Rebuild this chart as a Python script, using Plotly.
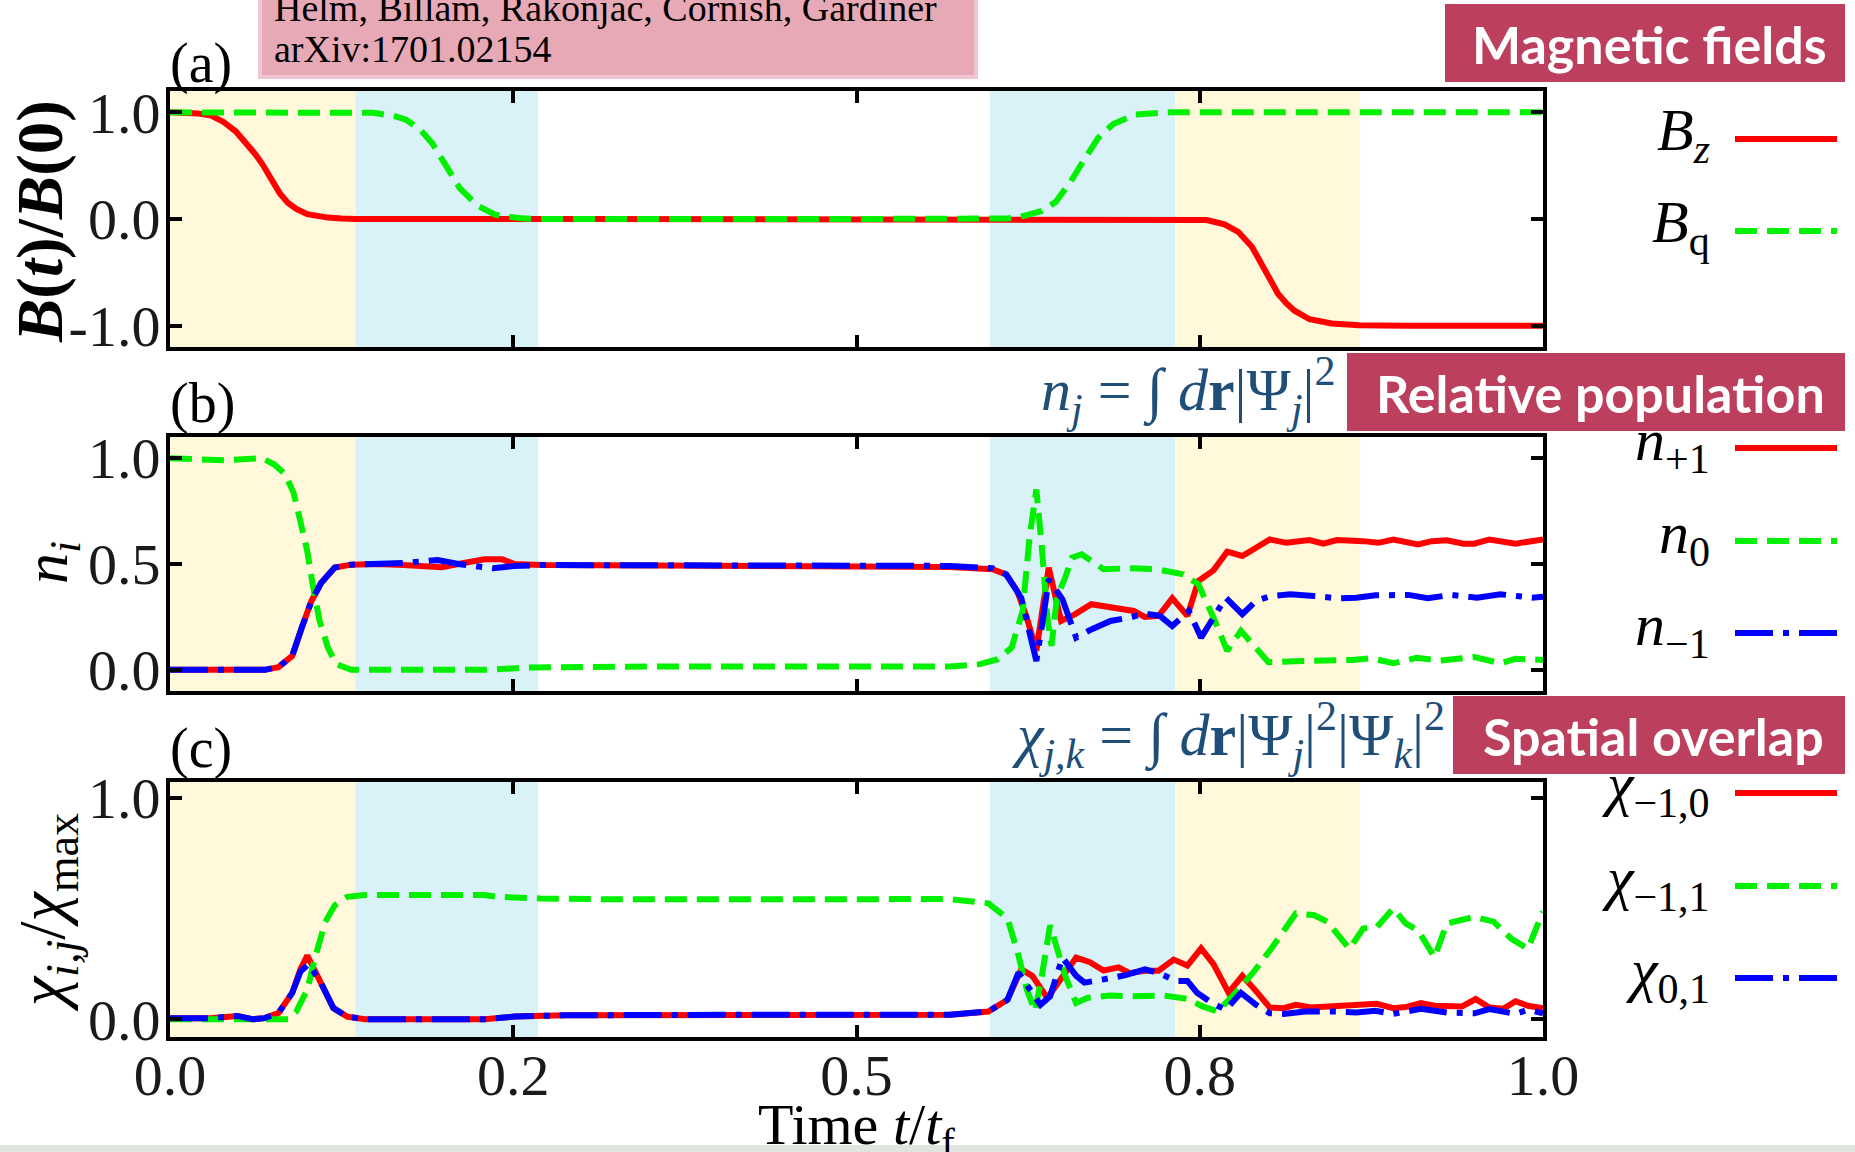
import plotly.graph_objects as go
from plotly.subplots import make_subplots

# ---------------- data ----------------
x_tickvals = [0.0, 0.25, 0.5, 0.75, 1.0]
x_ticktext = ["0.0", "0.2", "0.5", "0.8", "1.0"]

# shaded stages (t/tf)
yellow_spans = [(0.0, 0.135), (0.732, 0.867)]
cyan_spans = [(0.135, 0.268), (0.597, 0.732)]

# (a) magnetic fields
bz_t = [0, 0.02, 0.03, 0.039, 0.048, 0.056, 0.062, 0.067, 0.073, 0.08,
        0.086, 0.092, 0.1, 0.107, 0.115, 0.125, 0.135, 0.3, 0.5, 0.733,
        0.745, 0.755, 0.768, 0.778, 0.788, 0.798, 0.807, 0.813, 0.819, 0.83,
        0.846, 0.866, 0.9, 1.0]
bz_v = [1.0, 0.99, 0.97, 0.91, 0.82, 0.71, 0.61, 0.52, 0.40, 0.24,
        0.15, 0.095, 0.045, 0.025, 0.013, 0.005, 0.0, 0.0, 0.0, 0.0,
        -0.003, -0.01, -0.05, -0.12, -0.26, -0.48, -0.70, -0.79, -0.86, -0.94,
        -0.98, -0.995, -1.0, -1.0]
bq_t = [0, 0.136, 0.148, 0.156, 0.165, 0.172, 0.182, 0.191, 0.201, 0.211,
        0.224, 0.237, 0.256, 0.27, 0.5, 0.599, 0.61, 0.619, 0.628, 0.635,
        0.645, 0.656, 0.666, 0.676, 0.687, 0.703, 0.729, 1.0]
bq_v = [1, 1, 0.995, 0.98, 0.96, 0.93, 0.84, 0.71, 0.50, 0.29,
        0.125, 0.04, 0.006, 0, 0, 0, 0.005, 0.02, 0.045, 0.075,
        0.16, 0.35, 0.56, 0.76, 0.89, 0.98, 1.0, 1.0]

# (b) relative populations
np1_t = [0, 0.069, 0.079, 0.089, 0.096, 0.103, 0.11, 0.12, 0.132, 0.15,
         0.17, 0.198, 0.21, 0.229, 0.242, 0.251, 0.27, 0.35, 0.45, 0.55,
         0.568, 0.599, 0.609, 0.617, 0.624, 0.631, 0.640, 0.649, 0.659, 0.671,
         0.69, 0.702, 0.71, 0.72, 0.73, 0.741, 0.749, 0.76, 0.77, 0.781,
         0.791, 0.801, 0.813, 0.83, 0.84, 0.85, 0.869, 0.88, 0.891, 0.909,
         0.919, 0.93, 0.942, 0.95, 0.961, 0.98, 1.0]
np1_v = [0, 0, 0.013, 0.066, 0.2, 0.325, 0.41, 0.483, 0.497, 0.5,
         0.495, 0.485, 0.5, 0.522, 0.522, 0.5, 0.495, 0.493, 0.49, 0.488,
         0.486, 0.475, 0.451, 0.373, 0.247, 0.09, 0.483, 0.231, 0.262, 0.31,
         0.294, 0.278, 0.25, 0.255, 0.338, 0.255, 0.42, 0.47, 0.558, 0.538,
         0.577, 0.616, 0.6, 0.613, 0.596, 0.613, 0.608, 0.6, 0.616, 0.593,
         0.608, 0.612, 0.596, 0.596, 0.616, 0.596, 0.616]
n0_t = [0, 0.04, 0.067, 0.076, 0.084, 0.09, 0.095, 0.1, 0.104, 0.109,
        0.115, 0.121, 0.132, 0.229, 0.263, 0.324, 0.45, 0.568, 0.59, 0.603,
        0.613, 0.621, 0.626, 0.631, 0.635, 0.639, 0.642, 0.646, 0.652, 0.657,
        0.664, 0.68, 0.699, 0.719, 0.738, 0.749, 0.76, 0.77, 0.78, 0.79,
        0.8, 0.819, 0.847, 0.861, 0.875, 0.891, 0.908, 0.925, 0.95, 0.969,
        0.98, 1.0]
n0_v = [1.0, 0.99, 1.0, 0.97, 0.923, 0.836, 0.70, 0.56, 0.40, 0.23,
        0.105, 0.027, 0.0, 0.0, 0.011, 0.015, 0.016, 0.016, 0.027, 0.05,
        0.105, 0.278, 0.624, 0.852, 0.577, 0.247, 0.113, 0.341, 0.436, 0.53,
        0.546, 0.475, 0.48, 0.475, 0.451, 0.404, 0.247, 0.09, 0.184, 0.105,
        0.036, 0.041, 0.044, 0.047, 0.055, 0.031, 0.057, 0.044, 0.06, 0.031,
        0.052, 0.047]
nm1_t = [0, 0.069, 0.079, 0.089, 0.096, 0.103, 0.11, 0.12, 0.132, 0.15,
         0.17, 0.195, 0.21, 0.235, 0.25, 0.27, 0.35, 0.45, 0.55, 0.568,
         0.599, 0.609, 0.62, 0.626, 0.631, 0.636, 0.640, 0.650, 0.66, 0.671,
         0.685, 0.699, 0.71, 0.721, 0.73, 0.742, 0.751, 0.76, 0.769, 0.781,
         0.791, 0.802, 0.816, 0.833, 0.85, 0.864, 0.878, 0.902, 0.916, 0.933,
         0.952, 0.969, 0.992, 1.0]
nm1_v = [0, 0, 0.013, 0.066, 0.2, 0.325, 0.41, 0.483, 0.497, 0.5,
         0.505, 0.519, 0.5, 0.48, 0.49, 0.495, 0.493, 0.49, 0.488, 0.491,
         0.48, 0.451, 0.34, 0.184, 0.042, 0.247, 0.428, 0.333, 0.152, 0.191,
         0.231, 0.247, 0.266, 0.255, 0.207, 0.278, 0.152, 0.247, 0.341, 0.263,
         0.326, 0.349, 0.357, 0.349, 0.338, 0.341, 0.352, 0.354, 0.338, 0.354,
         0.341, 0.357, 0.341, 0.345]

# (c) spatial overlaps
c10_t = [0, 0.03, 0.049, 0.06, 0.069, 0.079, 0.089, 0.095, 0.1, 0.11,
         0.119, 0.129, 0.142, 0.229, 0.251, 0.288, 0.4, 0.5, 0.568, 0.596,
         0.61, 0.62, 0.628, 0.639, 0.649, 0.66, 0.67, 0.68, 0.691, 0.699,
         0.71, 0.72, 0.731, 0.741, 0.751, 0.76, 0.771, 0.781, 0.791, 0.801,
         0.811, 0.82, 0.831, 0.847, 0.861, 0.879, 0.891, 0.9, 0.911, 0.921,
         0.941, 0.951, 0.961, 0.971, 0.98, 0.989, 1.0]
c10_v = [0.005, 0.005, 0.015, 0.0, 0.005, 0.028, 0.119, 0.226, 0.287, 0.164,
         0.05, 0.012, 0.0, 0.0, 0.012, 0.018, 0.02, 0.02, 0.02, 0.035,
         0.088, 0.225, 0.196, 0.096, 0.18, 0.278, 0.257, 0.22, 0.234, 0.208,
         0.219, 0.219, 0.269, 0.242, 0.32, 0.249, 0.12, 0.196, 0.127, 0.053,
         0.05, 0.065, 0.053, 0.058, 0.065, 0.07, 0.05, 0.055, 0.073, 0.061,
         0.058, 0.091, 0.053, 0.047, 0.081, 0.061, 0.05]
c11_t = [0, 0.086, 0.092, 0.1, 0.106, 0.113, 0.12, 0.129, 0.142, 0.229,
         0.239, 0.27, 0.324, 0.45, 0.568, 0.596, 0.61, 0.618, 0.624, 0.63,
         0.635, 0.641, 0.646, 0.652, 0.66, 0.668, 0.685, 0.702, 0.724, 0.741,
         0.752, 0.763, 0.776, 0.789, 0.802, 0.81, 0.82, 0.833, 0.843, 0.85,
         0.859, 0.869, 0.879, 0.891, 0.9, 0.909, 0.921, 0.93, 0.95, 0.964,
         0.977, 0.989, 1.0]
c11_v = [0.0, 0.0, 0.035, 0.134, 0.286, 0.438, 0.514, 0.552, 0.56, 0.56,
         0.552, 0.545, 0.541, 0.54, 0.542, 0.523, 0.455, 0.287, 0.135, 0.037,
         0.196, 0.424, 0.318, 0.196, 0.073, 0.096, 0.107, 0.104, 0.107, 0.092,
         0.058, 0.035, 0.119, 0.211, 0.318, 0.392, 0.477, 0.47, 0.44, 0.386,
         0.318, 0.409, 0.416, 0.5, 0.432, 0.401, 0.28, 0.432, 0.462, 0.44,
         0.363, 0.318, 0.485]
c01_t = [0, 0.03, 0.049, 0.06, 0.069, 0.079, 0.089, 0.095, 0.101, 0.11,
         0.119, 0.129, 0.142, 0.229, 0.251, 0.288, 0.4, 0.5, 0.568, 0.596,
         0.61, 0.618, 0.626, 0.634, 0.641, 0.65, 0.66, 0.666, 0.68, 0.696,
         0.71, 0.721, 0.733, 0.741, 0.748, 0.759, 0.769, 0.78, 0.791, 0.801,
         0.811, 0.827, 0.85, 0.864, 0.878, 0.891, 0.911, 0.93, 0.95, 0.961,
         0.98, 0.989, 1.0]
c01_v = [0.005, 0.005, 0.015, 0.0, 0.005, 0.028, 0.119, 0.215, 0.249, 0.164,
         0.05, 0.012, 0.0, 0.0, 0.012, 0.018, 0.02, 0.02, 0.02, 0.035,
         0.088, 0.21, 0.135, 0.065, 0.104, 0.278, 0.196, 0.165, 0.18, 0.199,
         0.225, 0.206, 0.173, 0.173, 0.12, 0.073, 0.043, 0.119, 0.065, 0.027,
         0.024, 0.035, 0.035, 0.03, 0.038, 0.024, 0.047, 0.03, 0.027, 0.046,
         0.024, 0.043, 0.027]

# ---------------- style ----------------
RED, GREEN, BLUE = "#FF0000", "#00F000", "#0000FF"
YELLOW_BG, CYAN_BG = "#FFF8DA", "#D9F2F7"
BANNER = "#BC405E"
FORMULA = "#1F4E79"
SERIF = "Liberation Serif"
SANS = "Lato"
LW = 6
DASH = "22px,10px"
DASHDOT = "38px,10px,6px,10px"

W, H = 1855, 1152
L, R, T, B = 170, 1543, 91, 1037


def px(x):
    return (x - L) / (R - L)


def py(y):
    return (B - y) / (B - T)


fig = make_subplots(rows=3, cols=1, shared_xaxes=True)

styles = {
    "solid": dict(color=RED, width=LW),
    "dash": dict(color=GREEN, width=LW, dash=DASH),
    "dashdot": dict(color=BLUE, width=LW, dash=DASHDOT),
}

series = [
    (1, bz_t, bz_v, "solid"), (1, bq_t, bq_v, "dash"),
    (2, np1_t, np1_v, "solid"), (2, n0_t, n0_v, "dash"), (2, nm1_t, nm1_v, "dashdot"),
    (3, c10_t, c10_v, "solid"), (3, c11_t, c11_v, "dash"), (3, c01_t, c01_v, "dashdot"),
]
for row, tt, vv, st in series:
    n = min(len(tt), len(vv))
    fig.add_trace(go.Scatter(x=tt[:n], y=vv[:n], mode="lines", line=styles[st],
                             showlegend=False, hoverinfo="skip"), row=row, col=1)

for row in (1, 2, 3):
    for x0, x1 in yellow_spans:
        fig.add_vrect(x0=x0, x1=x1, fillcolor=YELLOW_BG, opacity=1, line_width=0,
                      layer="below", row=row, col=1)
    for x0, x1 in cyan_spans:
        fig.add_vrect(x0=x0, x1=x1, fillcolor=CYAN_BG, opacity=1, line_width=0,
                      layer="below", row=row, col=1)

axis_common = dict(showline=True, linewidth=4, linecolor="black", mirror="ticks",
                   ticks="inside", ticklen=12, tickwidth=4, tickcolor="black",
                   showgrid=False, zeroline=False,
                   tickfont=dict(family=SERIF, size=58, color="#1a1a1a"))

for i in (1, 2, 3):
    fig.update_xaxes(range=[0, 1], tickvals=x_tickvals, ticktext=x_ticktext,
                     showticklabels=(i == 3), row=i, col=1, **axis_common)

fig.update_yaxes(range=[-1.2, 1.2], tickvals=[-1, 0, 1], ticktext=["-1.0", "0.0", "1.0"],
                 row=1, col=1, **axis_common)
fig.update_yaxes(range=[-0.1, 1.1], tickvals=[0, 0.5, 1], ticktext=["0.0", "0.5", "1.0"],
                 row=2, col=1, **axis_common)
fig.update_yaxes(range=[-0.08, 1.07], tickvals=[0, 1], ticktext=["0.0", "1.0"],
                 row=3, col=1, **axis_common)
fig.update_yaxes(ticklabelstandoff=-6)

fig.update_layout(
    yaxis=dict(domain=[py(347), 1.0]),
    yaxis2=dict(domain=[py(691), py(437)]),
    yaxis3=dict(domain=[0.0, py(782)]),
    xaxis3=dict(ticklabelstandoff=-16),
)

ann = []
shapes = []


def text(x, y, s, size, color="black", family=SERIF, xanchor="center",
         yanchor="middle", angle=0):
    ann.append(dict(x=x, y=y, xref="paper", yref="paper", text=s, showarrow=False,
                    xanchor=xanchor, yanchor=yanchor, textangle=angle,
                    font=dict(family=family, size=size, color=color)))


# panel letters
text(px(168), py(97), "(a)", 56, xanchor="left", yanchor="bottom")
text(px(168), py(437), "(b)", 56, xanchor="left", yanchor="bottom")
text(px(168), py(782), "(c)", 56, xanchor="left", yanchor="bottom")

# y axis titles
text(px(40), py(222), "<b><i>B</i>(<i>t</i>)/<i>B</i>(0)</b>", 65, angle=-90)
text(px(50), py(563), "<i>n<sub>i</sub></i>", 62, angle=-90)
text(px(46), py(913), "<i>χ<sub>i,j</sub></i>/<i>χ</i><sub>max</sub>", 66, angle=-90)

# x axis title
text(0.5, py(1090), "Time <i>t</i>/<i>t</i><sub>f</sub>", 58, yanchor="top")

# banners
for (x0, x1, y0, y1, s) in [
    (1445, 1845, 4, 82, "Magnetic fields"),
    (1347, 1845, 353, 431, "Relative population"),
    (1453, 1845, 696, 774, "Spatial overlap"),
]:
    shapes.append(dict(type="rect", xref="paper", yref="paper",
                       x0=px(x0), x1=px(x1), y0=py(y1), y1=py(y0),
                       fillcolor=BANNER, line_width=0, layer="above"))
    text(px((x0 + x1) / 2 + 4), py((y0 + y1) / 2 + 1), "<b>" + s + "</b>", 52,
         color="white", family=SANS)

# citation box
shapes.append(dict(type="rect", xref="paper", yref="paper",
                   x0=px(258), x1=px(978), y0=py(79), y1=py(-5),
                   fillcolor="#F0C6D0", line_width=0, layer="above"))
shapes.append(dict(type="rect", xref="paper", yref="paper",
                   x0=px(262), x1=px(974), y0=py(75), y1=py(-5),
                   fillcolor="#E8A9B7", line_width=0, layer="above"))
text(px(272), py(8), "Helm, Billam, Rakonjac, Cornish, Gardiner", 38, xanchor="left")
text(px(272), py(49), "arXiv:1701.02154", 38, xanchor="left")

# formulas
text(px(1338), py(390), "<i>n<sub>j</sub></i> = ∫ <i>d</i><b>r</b>|Ψ<sub><i>j</i></sub>|<sup>2</sup>",
     60, color=FORMULA, xanchor="right")
text(px(1447), py(735),
     "<i>χ<sub>j,k</sub></i> = ∫ <i>d</i><b>r</b>|Ψ<sub><i>j</i></sub>|<sup>2</sup>|Ψ<sub><i>k</i></sub>|<sup>2</sup>",
     60, color=FORMULA, xanchor="right")

# legends (text + line swatches)
legend_items = [
    (139, "<i>B<sub>z</sub></i>", "solid"),
    (231, "<i>B</i><sub>q</sub>", "dash"),
    (448, "<i>n</i><sub>+1</sub>", "solid"),
    (541, "<i>n</i><sub>0</sub>", "dash"),
    (633, "<i>n</i><sub>−1</sub>", "dashdot"),
    (793, "<i>χ</i><sub>−1,0</sub>", "solid"),
    (886, "<i>χ</i><sub>−1,1</sub>", "dash"),
    (978, "<i>χ</i><sub>0,1</sub>", "dashdot"),
]
for y, s, st in legend_items:
    text(px(1712), py(y - 4), s, 60, xanchor="right")
    shapes.append(dict(type="line", xref="paper", yref="paper",
                       x0=px(1735), x1=px(1837), y0=py(y), y1=py(y),
                       line=styles[st], layer="above"))

# bottom strip
shapes.append(dict(type="rect", xref="paper", yref="paper",
                   x0=px(0), x1=px(W), y0=py(1152), y1=py(1145),
                   fillcolor="#DFE5DF", line_width=0, layer="below"))

fig.update_layout(
    width=W, height=H,
    margin=dict(l=L, r=W - R, t=T, b=H - B, autoexpand=False),
    paper_bgcolor="white", plot_bgcolor="white",
    annotations=list(fig.layout.annotations) + ann,
    shapes=list(fig.layout.shapes) + shapes,
    showlegend=False,
)

fig.write_html("out.html", config={"displayModeBar": False})
